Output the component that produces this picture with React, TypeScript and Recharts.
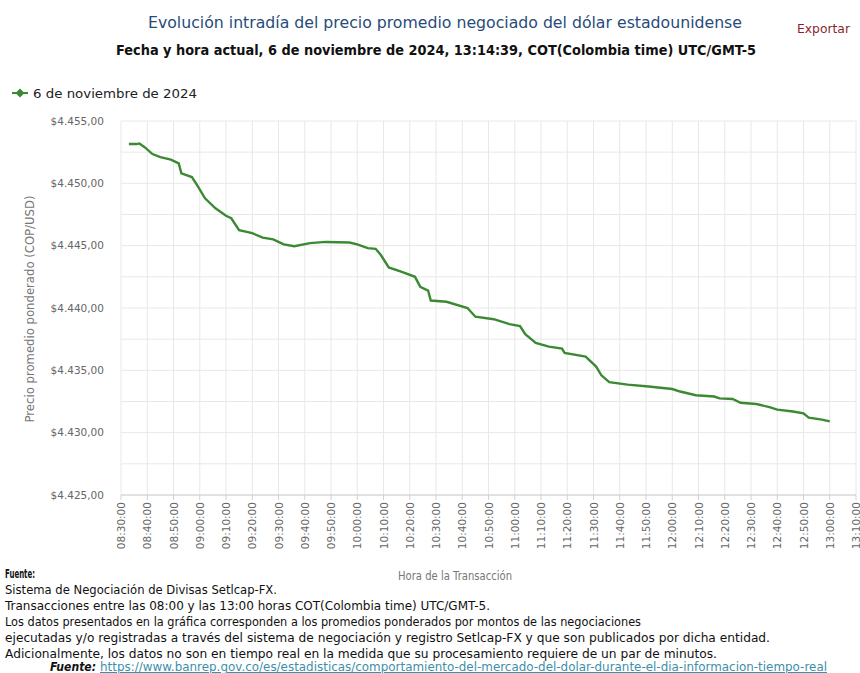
import React from 'react';
import { LineChart, Line, XAxis, YAxis, CartesianGrid } from 'recharts';

// hora de la transacción (COT) y precio promedio ponderado COP/USD
const times = [
  '08:33', '08:36', '08:37', '08:39', '08:42', '08:45', '08:49', '08:52', '08:53', '08:57',
  '08:59', '09:02', '09:06', '09:10', '09:12', '09:15', '09:20', '09:24', '09:28', '09:32',
  '09:36', '09:42', '09:48', '09:57', '10:00', '10:04', '10:07', '10:09', '10:12', '10:17',
  '10:22', '10:24', '10:27', '10:28', '10:34', '10:42', '10:45', '10:52', '10:58', '11:02',
  '11:04', '11:08', '11:13', '11:18', '11:19', '11:27', '11:31', '11:33', '11:36', '11:43',
  '11:51', '12:00', '12:03', '12:09', '12:16', '12:18', '12:23', '12:26', '12:32', '12:37',
  '12:40', '12:46', '12:50', '12:52', '12:57', '13:00',
];
const prices = [
  4453.15, 4453.15, 4453.2, 4452.9, 4452.35, 4452.1, 4451.9, 4451.6, 4450.8, 4450.5,
  4449.85, 4448.8, 4448.0, 4447.4, 4447.2, 4446.25, 4446.0, 4445.65, 4445.5, 4445.1,
  4444.95, 4445.2, 4445.3, 4445.25, 4445.1, 4444.8, 4444.75, 4444.25, 4443.25, 4442.9,
  4442.5, 4441.7, 4441.4, 4440.6, 4440.5, 4440.0, 4439.3, 4439.1, 4438.7, 4438.55,
  4437.9, 4437.2, 4436.9, 4436.75, 4436.4, 4436.1, 4435.3, 4434.6, 4434.05, 4433.85,
  4433.7, 4433.5, 4433.3, 4433.0, 4432.9, 4432.75, 4432.7, 4432.4, 4432.3, 4432.05,
  4431.85, 4431.7, 4431.55, 4431.2, 4431.05, 4430.9,
];

const xTicks = [
  '08:30', '08:40', '08:50', '09:00', '09:10', '09:20', '09:30', '09:40', '09:50', '10:00',
  '10:10', '10:20', '10:30', '10:40', '10:50', '11:00', '11:10', '11:20', '11:30', '11:40',
  '11:50', '12:00', '12:10', '12:20', '12:30', '12:40', '12:50', '13:00', '13:10',
];
// grid every 2.5, labels only on multiples of 5
const yTicks = [4425, 4427.5, 4430, 4432.5, 4435, 4437.5, 4440, 4442.5, 4445, 4447.5, 4450, 4452.5, 4455];

const seriesName = '6 de noviembre de 2024';

const footerLines = [
  { text: 'Sistema de Negociación de Divisas Setlcap-FX.', len: 272 },
  { text: 'Transacciones entre las 08:00 y las 13:00 horas COT(Colombia time) UTC/GMT-5.', len: 485 },
  { text: 'Los datos presentados en la gráfica corresponden a los promedios ponderados por montos de las negociaciones', len: 636 },
  { text: 'ejecutadas y/o registradas a través del sistema de negociación y registro Setlcap-FX y que son publicados por dicha entidad.', len: 765 },
  { text: 'Adicionalmente, los datos no son en tiempo real en la medida que su procesamiento requiere de un par de minutos.', len: 712 },
];
const sourceUrl = 'https://www.banrep.gov.co/es/estadisticas/comportamiento-del-mercado-del-dolar-durante-el-dia-informacion-tiempo-real';

const toMin = (t: string) => {
  const [h, m] = t.split(':').map(Number);
  return h * 60 + m;
};
const pad = (n: number) => String(n).padStart(2, '0');
const fmtTime = (m: number) => `${pad(Math.floor(m / 60))}:${pad(m % 60)}:00`;
const fmtPrice = (v: number) => {
  if (v % 5 !== 0) return '';
  const th = Math.floor(v / 1000);
  return `$${th}.${String(v - th * 1000).padStart(3, '0')},00`;
};

const data = times.map((t, i) => ({ minute: toMin(t), price: prices[i] }));

const FONT = '"DejaVu Sans", sans-serif';
const GREEN = '#3b8a33';

const XTick = ({ x, y, payload }: any) => (
  <text
    transform={`translate(${x},${y}) rotate(-90)`}
    textAnchor="end"
    dy={4}
    fontSize={10.5}
    fontFamily={FONT}
    fill="#666"
  >
    {fmtTime(payload.value)}
  </text>
);

export default function App() {
  return (
    <div style={{ position: 'absolute', left: 0, top: 0, width: 860, height: 673, background: '#fff' }}>
      <LineChart
        width={860}
        height={673}
        data={data}
        margin={{ top: 121, right: 4, bottom: 118, left: 0 }}
      >
        <CartesianGrid stroke="#e8e8e8" strokeWidth={1} />
        <XAxis
          dataKey="minute"
          type="number"
          domain={[510, 790]}
          ticks={xTicks.map(toMin)}
          interval={0}
          height={60}
          tick={<XTick />}
          tickSize={5}
          tickLine={{ stroke: '#d0d0d0' }}
          axisLine={{ stroke: '#d0d0d0' }}
        />
        <YAxis
          type="number"
          domain={[4425, 4455]}
          ticks={yTicks}
          interval={0}
          width={121}
          tickFormatter={fmtPrice}
          tickLine={false}
          axisLine={false}
          tickSize={6}
          tickMargin={11}
          tick={{ fontSize: 10.5, fontFamily: FONT, fill: '#666' }}
        />
        <Line
          type="linear"
          dataKey="price"
          name={seriesName}
          stroke={GREEN}
          strokeWidth={2.4}
          dot={false}
          isAnimationActive={false}
        />
      </LineChart>

      <svg
        width={860}
        height={673}
        style={{ position: 'absolute', left: 0, top: 0, pointerEvents: 'none' }}
        fontFamily={FONT}
      >
        <text x={148} y={27.5} fontSize={16.5} fill="#274b7a" textLength={594} lengthAdjust="spacingAndGlyphs">
          Evolución intradía del precio promedio negociado del dólar estadounidense
        </text>
        <text x={797} y={33} fontSize={12.5} fill="#8b1f2e" textLength={53} lengthAdjust="spacingAndGlyphs">
          Exportar
        </text>
        <text x={116} y={54.5} fontSize={14} fontWeight="bold" fill="#111" textLength={640} lengthAdjust="spacingAndGlyphs">
          Fecha y hora actual, 6 de noviembre de 2024, 13:14:39, COT(Colombia time) UTC/GMT-5
        </text>

        {/* legend */}
        <line x1={12} y1={93} x2={28} y2={93} stroke={GREEN} strokeWidth={2} />
        <path d="M20 88.5 L24.5 93 L20 97.5 L15.5 93 Z" fill={GREEN} />
        <text x={33} y={97.5} fontSize={12.5} fill="#222" textLength={164} lengthAdjust="spacingAndGlyphs">
          {seriesName}
        </text>

        {/* axis titles */}
        <text
          transform="translate(34,309) rotate(-90)"
          textAnchor="middle"
          fontSize={11.5}
          fill="#777"
          textLength={227}
          lengthAdjust="spacingAndGlyphs"
        >
          Precio promedio ponderado (COP/USD)
        </text>
        <text x={398} y={580} fontSize={11.5} fill="#777" textLength={114} lengthAdjust="spacingAndGlyphs">
          Hora de la Transacción
        </text>

        {/* footer */}
        <text x={5} y={578} fontSize={12} fontWeight="bold" fill="#111" textLength={30} lengthAdjust="spacingAndGlyphs">
          Fuente:
        </text>
        {footerLines.map((l, i) => (
          <text
            key={i}
            x={5}
            y={593.5 + i * 16}
            fontSize={12}
            fill="#111"
            textLength={l.len}
            lengthAdjust="spacingAndGlyphs"
          >
            {l.text}
          </text>
        ))}
        <text x={50} y={671} fontSize={11.5} fontWeight="bold" fontStyle="italic" fill="#111" textLength={46} lengthAdjust="spacingAndGlyphs">
          Fuente:
        </text>
        <text x={100} y={671} fontSize={11.5} fill="#3d8fa8" textDecoration="underline" textLength={727} lengthAdjust="spacingAndGlyphs">
          {sourceUrl}
        </text>
      </svg>
    </div>
  );
}
